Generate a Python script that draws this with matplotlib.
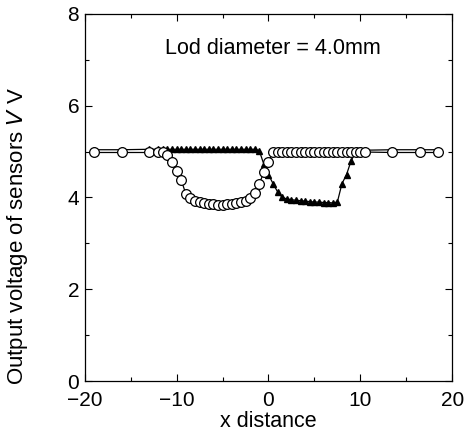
import numpy as np
import matplotlib
matplotlib.use("Agg")
import matplotlib.pyplot as plt
from matplotlib.ticker import MultipleLocator

plt.rcParams['font.family'] = ['Liberation Sans', 'DejaVu Sans']

# positions of sensor readings
x_pos = [-19, -16, -13,
         -12, -11.5, -11, -10.5, -10, -9.5, -9, -8.5, -8, -7.5, -7, -6.5,
         -6, -5.5, -5, -4.5, -4, -3.5, -3, -2.5, -2, -1.5, -1, -0.5,
         0, 0.5, 1, 1.5, 2, 2.5, 3, 3.5, 4, 4.5, 5, 5.5,
         6, 6.5, 7, 7.5, 8, 8.5, 9, 9.5, 10, 10.5,
         13.5, 16.5, 18.5]

# sensor A (open circles)
v_circle = [4.98, 4.98, 4.98,
            4.98, 4.98, 4.92, 4.78, 4.58, 4.38, 4.08, 3.98, 3.93, 3.90, 3.88, 3.86,
            3.85, 3.84, 3.84, 3.85, 3.86, 3.88, 3.90, 3.93, 3.98, 4.10, 4.30, 4.55,
            4.78, 4.98, 4.99, 4.99, 4.99, 4.99, 4.99, 4.99, 4.99, 4.99, 4.99, 4.99,
            4.99, 4.99, 4.99, 4.99, 4.99, 4.99, 4.99, 4.99, 4.99, 4.99,
            4.98, 4.98, 4.98]

# sensor B (filled triangles)
v_tri = [5.04, 5.04, 5.05,
         5.05, 5.05, 5.05, 5.05, 5.05, 5.05, 5.05, 5.05, 5.05, 5.05, 5.05, 5.05,
         5.05, 5.05, 5.05, 5.05, 5.05, 5.05, 5.05, 5.05, 5.05, 5.05, 5.02, 4.72,
         4.50, 4.30, 4.12, 4.00, 3.97, 3.95, 3.94, 3.93, 3.92, 3.91, 3.90, 3.90,
         3.89, 3.89, 3.88, 3.90, 4.30, 4.50, 4.80, 5.00, 5.03, 5.03,
         5.04, 5.04, 5.04]

fig = plt.figure(figsize=(4.71, 4.34), dpi=100)
ax = fig.add_axes([0.180, 0.122, 0.780, 0.846])

ax.plot(x_pos, v_tri, color='black', lw=0.9, marker='^', ms=4.5,
        mfc='black', mec='black')
ax.plot(x_pos, v_circle, color='black', lw=0.9, marker='o', ms=7,
        mfc='white', mec='black', mew=0.9)

ax.set_xlim(-20, 20)
ax.set_ylim(0, 8)
ax.xaxis.set_major_locator(MultipleLocator(10))
ax.xaxis.set_minor_locator(MultipleLocator(5))
ax.yaxis.set_major_locator(MultipleLocator(2))
ax.yaxis.set_minor_locator(MultipleLocator(1))
ax.tick_params(which='both', direction='in', top=True, right=True,
               labelsize=15, width=0.8)
ax.tick_params(axis='x', pad=7)
ax.tick_params(axis='y', pad=4)
ax.tick_params(which='major', length=5)
ax.tick_params(which='minor', length=3)
for s in ax.spines.values():
    s.set_linewidth(0.9)

ax.set_xlabel('x distance', fontsize=15.5, labelpad=1)
ax.set_ylabel('Output voltage of sensors $V$ V', fontsize=16)
ax.yaxis.set_label_coords(-0.150, 0.395)
ax.text(0.5, 7.25, 'Lod diameter = 4.0mm', fontsize=15.5,
        ha='center', va='center')

fig.savefig('out.png', dpi=100)
